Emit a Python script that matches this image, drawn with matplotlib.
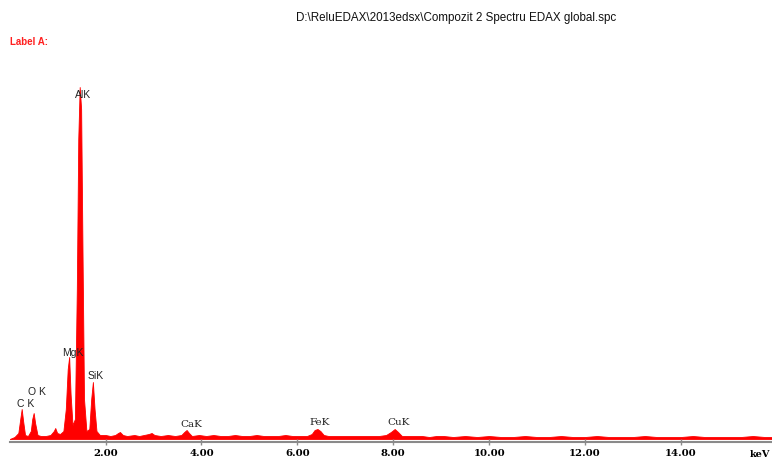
import matplotlib
matplotlib.use('Agg')
import numpy as np
import matplotlib.pyplot as plt

# spectrum (energy in keV, counts in arbitrary units)
low_energy = [0.00, 0.10, 0.18, 0.22, 0.25, 0.28, 0.32, 0.38, 0.44, 0.47,
              0.50, 0.53, 0.58, 0.65, 0.75, 0.85, 0.92, 0.95, 0.99, 1.05,
              1.12, 1.17, 1.21, 1.24, 1.27, 1.31, 1.36, 1.40, 1.43, 1.46,
              1.49, 1.52, 1.55, 1.60, 1.66, 1.70, 1.735, 1.77, 1.81, 1.88,
              1.95]
low_counts = [0, 20, 60, 200, 300, 180, 40, 30, 80, 200,
              260, 160, 40, 30, 30, 40, 80, 110, 60, 50,
              80, 300, 700, 820, 450, 140, 200, 1500, 3000, 3520,
              3300, 1800, 400, 80, 100, 400, 570, 300, 80, 40,
              40]

high_energy = [2.00, 2.10, 2.20, 2.26, 2.30, 2.36, 2.45, 2.60, 2.70, 2.80,
               2.90, 2.96, 3.02, 3.15, 3.30, 3.45, 3.58, 3.64, 3.69, 3.74,
               3.80, 3.95, 4.10, 4.25, 4.40, 4.55, 4.70, 4.85, 5.00, 5.15,
               5.30, 5.45, 5.60, 5.75, 5.90, 6.05, 6.20, 6.30, 6.36, 6.42,
               6.48, 6.55, 6.65, 6.80, 6.95, 7.10, 7.25, 7.40, 7.55, 7.70,
               7.85, 7.95, 8.03, 8.10, 8.18, 8.30, 8.45, 8.60, 8.75, 8.90,
               9.05, 9.25, 9.50, 9.75, 10.00, 10.25, 10.50, 10.75, 11.00, 11.25,
               11.50, 11.75, 12.00, 12.25, 12.50, 12.75, 13.00, 13.25, 13.50, 13.75,
               14.00, 14.25, 14.50, 14.75, 15.00, 15.25, 15.50, 15.75, 15.90]
high_counts = [40, 30, 40, 60, 70, 40, 30, 40, 30, 40,
               50, 60, 40, 30, 40, 30, 40, 70, 90, 60,
               30, 40, 30, 40, 30, 30, 40, 30, 30, 40,
               30, 30, 30, 40, 30, 30, 30, 50, 90, 100,
               80, 40, 30, 30, 30, 30, 30, 30, 30, 30,
               40, 70, 100, 70, 30, 30, 30, 30, 20, 30,
               30, 20, 30, 20, 30, 20, 20, 30, 20, 20,
               30, 20, 20, 30, 20, 20, 20, 30, 20, 20,
               20, 30, 20, 20, 20, 20, 30, 20, 20]

energy = np.array(low_energy + high_energy)
counts = np.array(low_counts + high_counts)

peak_labels = ['C K', 'O K', 'MgK', 'AlK', 'SiK', 'CaK', 'FeK', 'CuK']
peak_x = [0.34, 0.57, 1.31, 1.53, 1.80, 3.78, 6.47, 8.11]
peak_y = [360, 480, 870, 3450, 640, 150, 170, 170]

tick_values = [2, 4, 6, 8, 10, 12, 14]
tick_labels = ['%.2f' % v for v in tick_values]

W, H = 772, 460
fig = plt.figure(figsize=(W / 100, H / 100), dpi=100)
ax = fig.add_axes([9.7 / W, 20 / H, (W - 9.7) / W, 360 / H])
ax.fill_between(energy, 0, counts, color='#ff0000', linewidth=0.6, edgecolor='#ff0000')
ax.set_xlim(0, 15.9)
ax.set_ylim(0, 3600)

for s in ['left', 'top', 'right']:
    ax.spines[s].set_visible(False)
ax.spines['bottom'].set_position(('outward', 2))
ax.spines['bottom'].set_color('#8a8a8a')
ax.spines['bottom'].set_linewidth(1.5)
ax.set_yticks([])
ax.set_xticks(tick_values)
ax.set_xticklabels(tick_labels, fontfamily='DejaVu Serif', fontweight='bold', fontsize=7.3)
ax.tick_params(axis='x', direction='inout', length=4, width=1, color='#8a8a8a', pad=2.5)

for lab, x, y in zip(peak_labels, peak_x, peak_y):
    fam = 'DejaVu Serif' if lab in ('CaK', 'FeK', 'CuK') else 'Liberation Sans'
    ax.text(x, y, lab, ha='center', va='center', fontsize=7.5, fontfamily=fam, color='#222222')

fig.text(770 / W, 1 - 455 / H, 'keV', ha='right', va='center',
         fontfamily='DejaVu Serif', fontweight='bold', fontsize=7)
fig.text(456 / W, 1 - 18 / H, r'D:\ReluEDAX\2013edsx\Compozit 2 Spectru EDAX global.spc',
         ha='center', va='center', fontfamily='Liberation Sans', fontsize=8.4, color='#111111')
fig.text(10 / W, 1 - 42 / H, 'Label A:', ha='left', va='center',
         fontfamily='Liberation Sans', fontweight='bold', fontsize=7, color='#ff2020')

fig.savefig('out.png', dpi=100, facecolor='white')
